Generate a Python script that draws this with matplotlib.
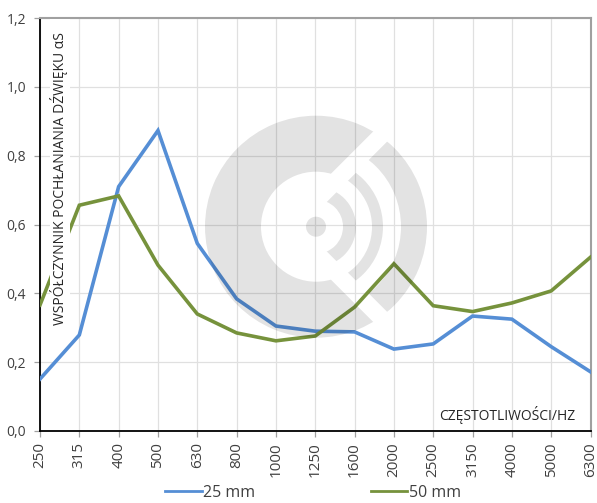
import numpy as np
import matplotlib
matplotlib.use('Agg')
import matplotlib.pyplot as plt
from matplotlib.patches import Wedge, Circle, Polygon, Rectangle
from matplotlib.transforms import IdentityTransform

plt.rcParams['font.family'] = ['Open Sans', 'DejaVu Sans']

freq = ['250', '315', '400', '500', '630', '800', '1000', '1250', '1600',
        '2000', '2500', '3150', '4000', '5000', '6300']
mm25 = [0.151, 0.279, 0.71, 0.873, 0.545, 0.384, 0.305, 0.29, 0.288,
        0.238, 0.253, 0.334, 0.325, 0.245, 0.172]
mm50 = [0.366, 0.656, 0.683, 0.482, 0.34, 0.285, 0.262, 0.276, 0.36,
        0.486, 0.364, 0.347, 0.372, 0.407, 0.505]
yticks = [0.0, 0.2, 0.4, 0.6, 0.8, 1.0, 1.2]

W, H = 597, 503
fig = plt.figure(figsize=(W / 100, H / 100), dpi=100)
ax = fig.add_axes([40 / W, 1 - 431 / H, 550.5 / W, 413 / H])

x = np.arange(len(freq))
ax.plot(x, mm25, color='#558ED5', lw=2.6, label='25 mm', solid_joinstyle='miter', zorder=3)
ax.plot(x, mm50, color='#76923C', lw=2.6, label='50 mm', solid_joinstyle='miter', zorder=3)

ax.set_xlim(0, len(freq) - 1)
ax.set_ylim(0, 1.2)
ax.set_xticks(x)
ax.set_xticklabels(freq, rotation=90)
ax.set_yticks(yticks)
ax.set_yticklabels([('%.1f' % v).replace('.', ',') for v in yticks])
ax.grid(color='#E0E0E0', lw=0.9)
ax.set_axisbelow(True)
ax.tick_params(axis='y', labelsize=10, labelcolor='#404040', color='#A0A0A0', length=4, width=0.9, pad=6)
ax.tick_params(axis='x', labelsize=11, labelcolor='#404040', color='#A0A0A0', length=4, width=0.9, pad=4)
for side in ['top', 'right']:
    ax.spines[side].set_color('#A0A0A0')
    ax.spines[side].set_linewidth(1.5)
for side in ['left', 'bottom']:
    ax.spines[side].set_color('black')
    ax.spines[side].set_linewidth(1.3)

tr = IdentityTransform()

# axis captions sit inside the plot, the left one on a white box
ax.add_patch(Rectangle((50, H - 330), 20, 311, facecolor='white', edgecolor='none', transform=tr, zorder=4.5))
ax.text(59, H - 179, 'WSPÓŁCZYNNIK POCHŁANIANIA DŹWIĘKU αS', transform=tr,
        rotation=90, ha='center', va='center', fontsize=10, color='#262626', zorder=5)
ax.text(507, H - 415, 'CZĘSTOTLIWOŚCI/HZ', transform=tr, ha='center', va='center',
        fontsize=10, color='#262626', zorder=5)

# watermark in pixels, over everything
cx, cy = 316, H - 226.7
mark = dict(facecolor='black', edgecolor='none', alpha=0.11, transform=tr, zorder=4)


def clipped(patch, clip_pts):
    ax.add_patch(patch)
    patch.set_clip_path(Polygon(clip_pts, closed=True, transform=tr))


left_clip = [(cx - 38, cy), (cx + 300 - 38, cy + 300), (cx - 300, cy + 300),
             (cx - 300, cy - 300), (cx + 300 - 38, cy - 300)]
right_clip = [(cx - 14, cy), (cx + 300 - 14, cy + 300), (cx + 400, cy + 300),
              (cx + 400, cy - 300), (cx + 300 - 14, cy - 300)]
clipped(Wedge((cx, cy), 111, 0, 360, width=56, **mark), left_clip)
clipped(Wedge((cx, cy), 111, 0, 360, width=26, **mark), right_clip)
clipped(Wedge((cx, cy), 67, 0, 360, width=11, **mark), right_clip)
clipped(Wedge((cx, cy), 40, 0, 360, width=13, **mark), right_clip)
ax.add_patch(Circle((cx, cy), 10, **mark))

handles, labels = ax.get_legend_handles_labels()
leg = fig.legend(handles, labels, ncol=2, loc='center', bbox_to_anchor=(313 / W, 1 - 493 / H),
                 frameon=False, fontsize=11.5, labelcolor='#404040', handlelength=2.3,
                 handletextpad=0.1, columnspacing=7.2)
for line in leg.get_lines():
    line.set_linewidth(2)

fig.savefig('out.png', dpi=100)
